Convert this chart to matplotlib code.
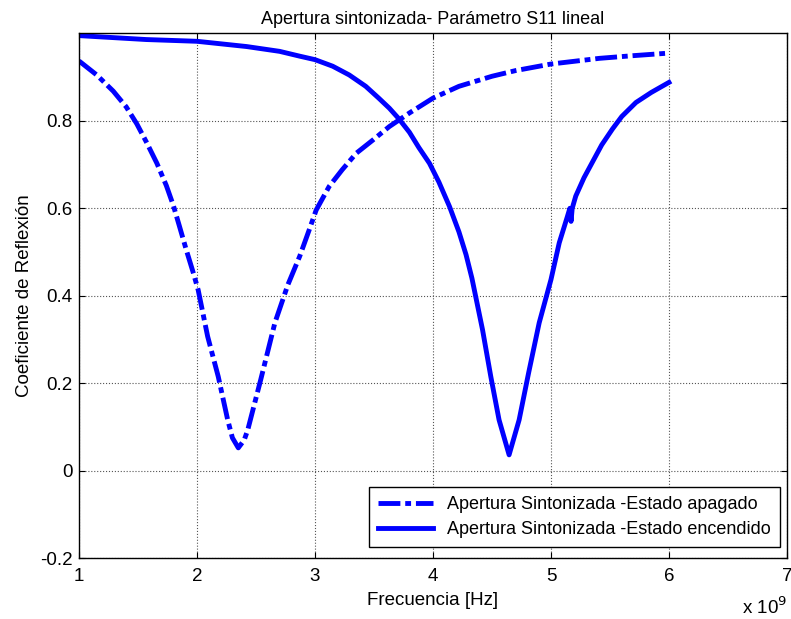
import numpy as np
import matplotlib
matplotlib.use('Agg')
import matplotlib.pyplot as plt
from matplotlib import ticker

# frecuencia en GHz (el eje se muestra como x 10^9)
freq_off = [1.0, 1.15, 1.29, 1.40, 1.49, 1.57, 1.66, 1.74, 1.80, 1.85, 1.91,
            1.97, 2.01, 2.09, 2.18, 2.26, 2.30, 2.35, 2.40, 2.43, 2.54, 2.66,
            2.77, 2.87, 2.95, 3.01, 3.12, 3.23, 3.35, 3.49, 3.63, 3.80, 4.0,
            4.22, 4.50, 4.7, 5.0, 5.41, 5.69, 6.0]
s11_off = [0.937, 0.905, 0.868, 0.832, 0.793, 0.752, 0.703, 0.652, 0.606, 0.56,
           0.504, 0.451, 0.413, 0.307, 0.215, 0.116, 0.075, 0.052, 0.07, 0.093,
           0.208, 0.338, 0.425, 0.49, 0.55, 0.596, 0.65, 0.688, 0.726, 0.756,
           0.787, 0.818, 0.852, 0.879, 0.902, 0.915, 0.93, 0.943, 0.949, 0.955]

freq_on = [1.0, 1.57, 2.0, 2.42, 2.70, 2.87, 3.0, 3.15, 3.29, 3.43, 3.54, 3.63,
           3.71, 3.80, 3.88, 3.97, 4.05, 4.14, 4.22, 4.28, 4.33, 4.42, 4.49,
           4.56, 4.645, 4.73, 4.81, 4.9, 5.0, 5.07, 5.14, 5.16, 5.17, 5.18,
           5.21, 5.28, 5.35, 5.43, 5.52, 5.6, 5.72, 5.85, 6.0]
s11_on = [0.995, 0.986, 0.982, 0.970, 0.959, 0.948, 0.940, 0.925, 0.905, 0.879,
          0.852, 0.829, 0.805, 0.774, 0.739, 0.703, 0.660, 0.604, 0.546, 0.494,
          0.44, 0.322, 0.215, 0.116, 0.036, 0.116, 0.223, 0.338, 0.437, 0.521,
          0.582, 0.60, 0.57, 0.60, 0.628, 0.67, 0.705, 0.745, 0.781, 0.81,
          0.842, 0.865, 0.888]

plt.rcParams['font.family'] = ['Liberation Sans', 'DejaVu Sans']
plt.rcParams['axes.unicode_minus'] = False

fig = plt.figure(figsize=(7.91, 6.19), dpi=100)
ax = fig.add_axes([0.0999, 0.0985, 0.895, 0.8475])

ax.plot(freq_off, s11_off, color='#0000ff', lw=3.5,
        linestyle=(0, (4.5, 1.0, 1.2, 1.0)),
        label='Apertura Sintonizada -Estado apagado')
ax.plot(freq_on, s11_on, color='#0000ff', lw=3.5, solid_joinstyle='round',
        label='Apertura Sintonizada -Estado encendido')

ax.set_xlim(1, 7)
ax.set_ylim(-0.2, 1.0)
ax.set_xticks([1, 2, 3, 4, 5, 6, 7])
ax.set_yticks([-0.2, 0, 0.2, 0.4, 0.6, 0.8])
ax.yaxis.set_major_formatter(ticker.FormatStrFormatter('%g'))
ax.grid(True, color='#555555', linestyle=':', linewidth=0.8)
ax.tick_params(direction='in', top=True, right=True, length=4,
               labelsize=13.5, pad=7)
ax.tick_params(axis='y', pad=4.5)
for s in ax.spines.values():
    s.set_linewidth(1.0)

ax.set_title('Apertura sintonizada- Parámetro S11 lineal', fontsize=13, pad=7)
ax.set_xlabel('Frecuencia [Hz]', fontsize=13.5, labelpad=5)
ax.set_ylabel('Coeficiente de Reflexión', fontsize=13.5, labelpad=5)
ax.text(1.0, -0.074, r'x 10$^9$', transform=ax.transAxes, ha='right',
        va='top', fontsize=13.5)

leg = ax.legend(loc='lower right', bbox_to_anchor=(0.99, 0.021),
                borderaxespad=0, fontsize=13, handlelength=3.0,
                fancybox=False, framealpha=1, edgecolor='black',
                labelspacing=0.45, handletextpad=0.8, borderpad=0.5)
leg.get_frame().set_linewidth(1.0)

fig.savefig('out.png', dpi=100)
